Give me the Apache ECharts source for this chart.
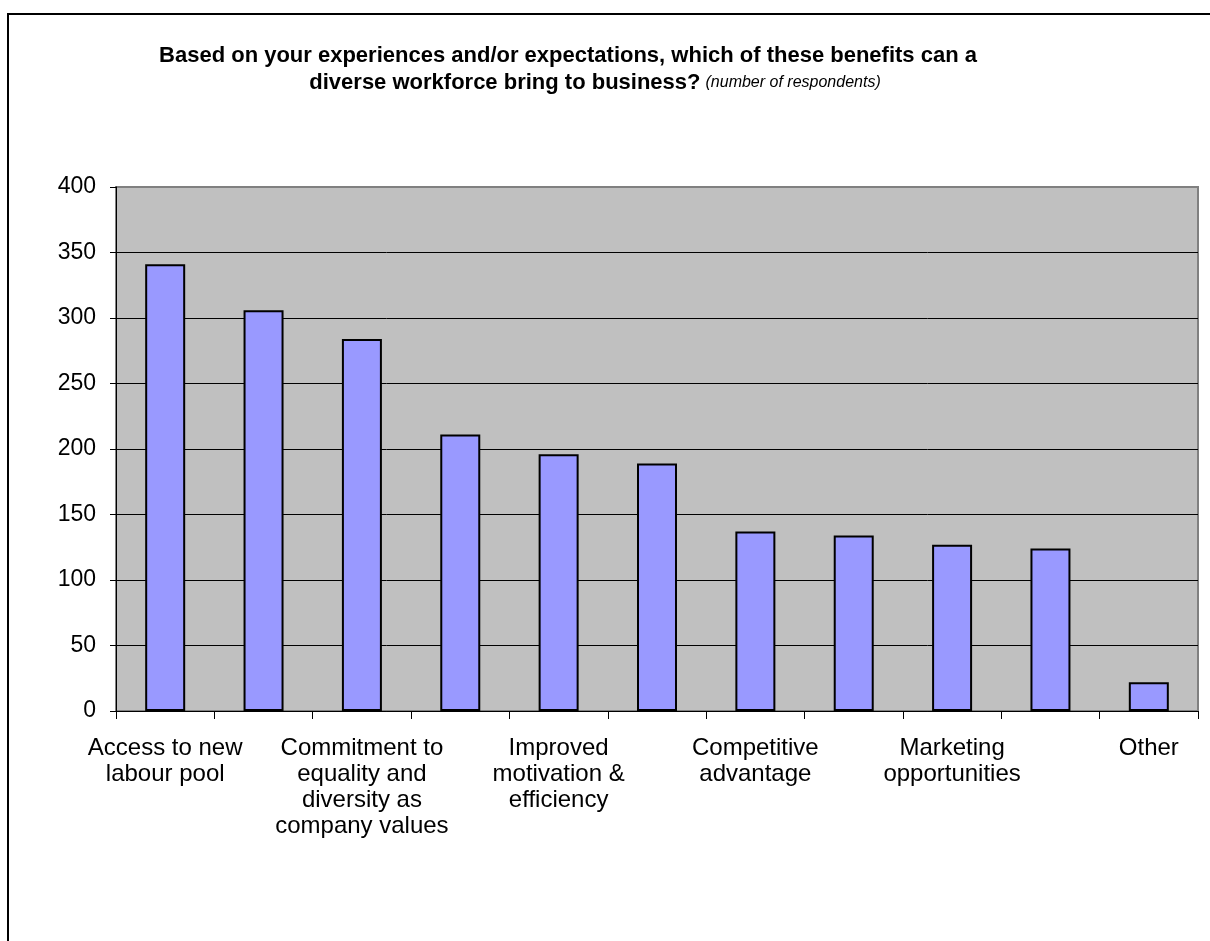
<!DOCTYPE html>
<html>
<head>
<meta charset="utf-8">
<script src="https://cdn.jsdelivr.net/npm/echarts@6/dist/echarts.min.js"></script>
<style>
html,body{margin:0;padding:0;background:#fff;}
#chart{width:1210px;height:941px;}
</style>
</head>
<body>
<div id="chart"></div>
<script>
const categories = [
  "Access to new\nlabour pool",
  "Unlabelled 2",
  "Commitment to\nequality and\ndiversity as\ncompany values",
  "Unlabelled 4",
  "Improved\nmotivation &\nefficiency",
  "Unlabelled 6",
  "Competitive\nadvantage",
  "Unlabelled 8",
  "Marketing\nopportunities",
  "Unlabelled 10",
  "Other"
];
const respondents = [341, 306, 284, 211, 196, 189, 137, 134, 127, 124, 22];
const titleLine1 = "Based on your experiences and/or expectations, which of these benefits can a";
const titleLine2 = "diverse workforce bring to business?";
const titleNote = "(number of respondents)";

const chart = echarts.init(document.getElementById('chart'));
const FONT = '"Liberation Sans", Arial, sans-serif';
chart.setOption({
  animation: false,
  backgroundColor: '#ffffff',
  graphic: [{
    type: 'rect',
    silent: true,
    shape: { x: 8, y: 14, width: 1400, height: 1200 },
    style: { fill: 'none', stroke: '#000', lineWidth: 2 },
    z: -10
  }],
  title: [{
    left: 563,
    top: 37,
    textAlign: 'center',
    text: titleLine1,
    textStyle: { fontFamily: FONT, fontWeight: 'bold', fontSize: 22, color: '#000', lineHeight: 27 }
  }, {
    left: 590,
    top: 64,
    textAlign: 'center',
    text: '{b|' + titleLine2 + '} {i|' + titleNote + '}',
    textStyle: {
      rich: {
        b: { fontFamily: FONT, fontWeight: 'bold', fontSize: 22, color: '#000', lineHeight: 27 },
        i: { fontFamily: FONT, fontWeight: 'normal', fontStyle: 'italic', fontSize: 16, color: '#000', lineHeight: 27 }
      }
    }
  }],
  grid: {
    left: 116, top: 187, right: 12, bottom: 230,
    show: true, backgroundColor: '#C0C0C0', borderColor: '#808080', borderWidth: 2
  },
  xAxis: {
    type: 'category',
    data: categories,
    axisLine: { lineStyle: { color: '#000', width: 1 } },
    axisTick: { show: true, interval: 0, length: 8, lineStyle: { color: '#000' } },
    axisLabel: {
      interval: 1, color: '#000', fontFamily: FONT, fontSize: 24, lineHeight: 26, margin: 24
    },
    splitLine: { show: false }
  },
  yAxis: {
    type: 'value',
    min: 0, max: 400, interval: 50,
    axisLine: { show: true, lineStyle: { color: '#000', width: 1 } },
    axisTick: { show: true, length: 6, lineStyle: { color: '#000' } },
    axisLabel: { color: '#000', fontFamily: FONT, fontSize: 23, margin: 20 },
    splitLine: { show: true, showMaxLine: false, lineStyle: { color: '#000', width: 1 } }
  },
  series: [{
    type: 'bar',
    data: respondents,
    barWidth: 40,
    itemStyle: { color: '#9999FF', borderColor: '#000', borderWidth: 2 }
  }]
});
</script>
</body>
</html>
